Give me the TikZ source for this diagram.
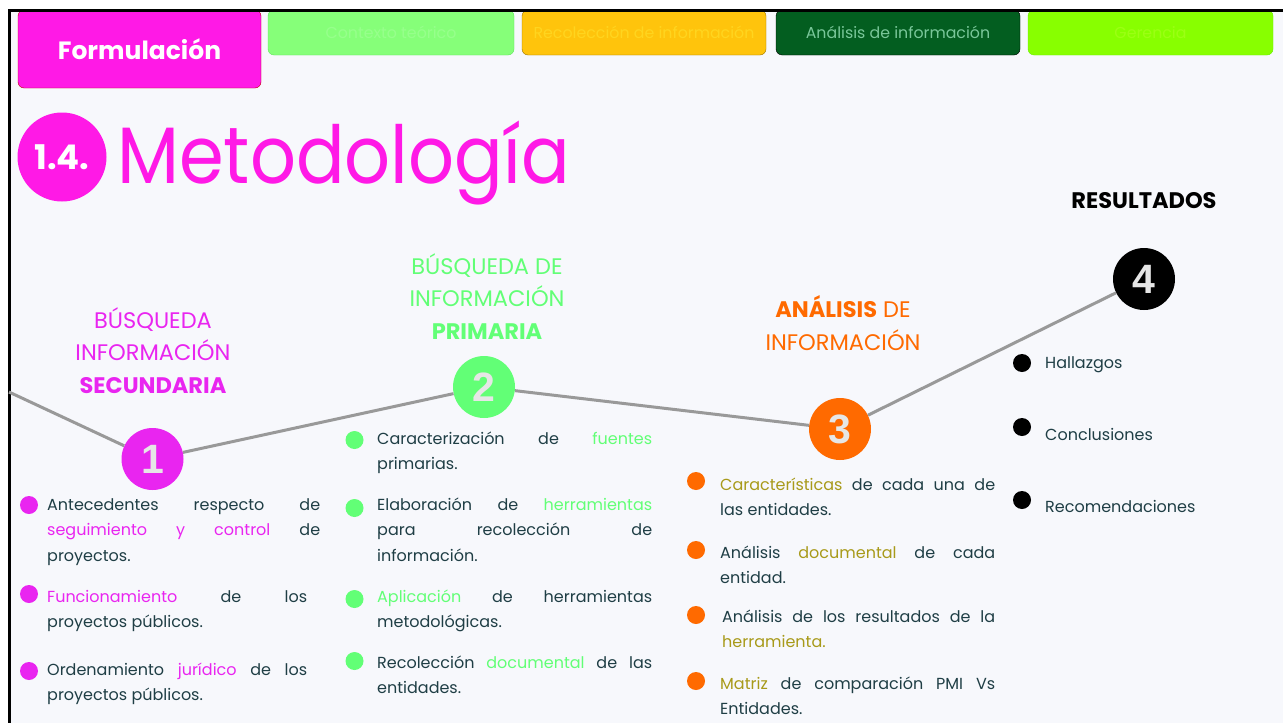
\documentclass[tikz,border=0pt]{standalone}
\usepackage{fontspec}
\setmainfont{Poppins}
\newfontfamily\titlefont{Poppins}[FakeStretch=0.9]
\newfontfamily\numfont{Liberation Sans}
\usepackage{xcolor}
\usepackage{tikz}
\usetikzlibrary{positioning}
\definecolor{pagebg}{HTML}{F7F8FC}
\definecolor{titlemag}{HTML}{FF19E6}
\definecolor{secmag}{HTML}{E925F0}
\definecolor{secgreen}{HTML}{62FF76}
\definecolor{secorange}{HTML}{FF6A00}
\definecolor{hiolive}{HTML}{A89A1A}
\definecolor{txtdark}{HTML}{1F3E45}
\definecolor{linegray}{HTML}{999999}
\definecolor{numgray}{HTML}{E6E6E6}
\definecolor{formred}{HTML}{C00000}
\definecolor{ctxfill}{HTML}{86FF79}
\definecolor{ctxline}{HTML}{5EE65A}
\definecolor{ctxtext}{HTML}{97FF8C}
\definecolor{recfill}{HTML}{FFC40C}
\definecolor{recline}{HTML}{9A7400}
\definecolor{rectext}{HTML}{FFD51F}
\definecolor{anafill}{HTML}{035E20}
\definecolor{anatext}{HTML}{7AC79A}
\definecolor{gerfill}{HTML}{88FF00}
\definecolor{gerline}{HTML}{66F000}
\definecolor{gertext}{HTML}{9CFF14}

\begin{document}
\begin{tikzpicture}[x=1pt, y=-1pt,
  tab/.style={draw, rounded corners=6pt, minimum width=244pt, minimum height=45pt, inner sep=0pt, font=\fontsize{15.8}{17}\selectfont},
  stepnum/.style={circle, minimum size=62pt, inner sep=0pt, text=numgray, font=\numfont\bfseries\fontsize{41}{41}\selectfont},
  itemdot/.style={circle, minimum size=18pt, inner sep=0pt},
  item/.style={anchor=base west, text width=#1, align=justify, inner sep=0pt, text=txtdark, font=\fontsize{16}{25.5}\selectfont},
  item/.default=273pt,
  head/.style={anchor=base, align=center, inner sep=0pt, font=\fontsize{22.5}{32.5}\selectfont}]
  \useasboundingbox (0,0) rectangle (1283,723);
  % page and frame
  \fill[white] (0,0) rectangle (1283,723);
  \fill[pagebg] (9,10) rectangle (1283,723);
  % top tabs
  \node[tab, draw=formred, fill=titlemag, text=white, minimum width=243pt, minimum height=78pt, font=\bfseries\fontsize{25}{27}\selectfont] (tform) at (139.5,49) {Formulación};
  \node[tab, draw=ctxline, fill=ctxfill, text=ctxtext, minimum width=246pt] (tctx) at (391,32.5) {Contexto teórico};
  \node[tab, draw=recline, fill=recfill, text=rectext] (trec) at (644,32.5) {Recolección de información};
  \node[tab, draw=black, fill=anafill, text=anatext] (tana) at (898,32.5) {Análisis de información};
  \node[tab, draw=gerline, fill=gerfill, text=gertext, minimum width=245pt] (tger) at (1150.5,32.5) {Gerencia};
  \draw[line width=3pt] (9,723) -- (9,10) -- (1283,10);
  % title
  \node[circle, fill=titlemag, text=white, minimum size=89pt, inner sep=0pt, font=\bfseries\fontsize{34}{34}\selectfont] (tnum) at (62,157) {1.4.};
  \node[anchor=base west, inner sep=0pt, text=titlemag, font=\titlefont\fontsize{80}{80}\selectfont] (ttl) at (117,183) {Metodología};
  % steps along the line
  \node[stepnum, fill=secmag] (n1) at (152.5,459) {1};
  \node[stepnum, fill=secgreen] (n2) at (484,387) {2};
  \node[stepnum, fill=secorange] (n3) at (840,429) {3};
  \node[stepnum, fill=black] (n4) at (1144,279) {4};
  \coordinate (lstart) at (9,392);
  \draw[linegray, line width=3pt] (lstart) -- (n1) (n1) -- (n2) (n2) -- (n3) (n3) -- (n4);
  % headings (base = last line)
  \node[head, text=secmag] (h1) at (153,393) {BÚSQUEDA\\INFORMACIÓN\\\textbf{SECUNDARIA}};
  \node[head, text=secgreen] (h2) at (487,339) {BÚSQUEDA DE\\INFORMACIÓN\\\textbf{PRIMARIA}};
  \node[head, text=secorange] (h3) at (843,350) {\textbf{ANÁLISIS} DE\\INFORMACIÓN};
  \node[head, text=black] (h4) at (1144,208) {\textbf{RESULTADOS}};
  % column 1
  \foreach \y/\k in {505/1,594/2,671/3} \node[itemdot, fill=secmag] (b1\k) at (29,\y) {};
  \node[item] (t11) at (47,510) {Antecedentes respecto de\linebreak \textcolor{secmag}{seguimiento y control} de\linebreak proyectos.};
  \node[item=260pt] (t12) at (47,602) {\textcolor{secmag}{Funcionamiento} de los\linebreak proyectos públicos.};
  \node[item=260pt] (t13) at (47,675) {Ordenamiento \textcolor{secmag}{jurídico} de los\linebreak proyectos públicos.};
  % column 2
  \foreach \y/\k in {440/1,508/2,599/3,661/4} \node[itemdot, fill=secgreen] (b2\k) at (354.5,\y) {};
  \node[item=275pt] (t21) at (377,444) {Caracterización de \textcolor{secgreen}{fuentes}\linebreak primarias.};
  \node[item=275pt] (t22) at (377,510) {Elaboración de \textcolor{secgreen}{herramientas}\linebreak para recolección de\linebreak información.};
  \node[item=275pt] (t23) at (377,602) {\textcolor{secgreen}{Aplicación} de herramientas\linebreak metodológicas.};
  \node[item=275pt] (t24) at (377,668) {Recolección \textcolor{secgreen}{documental} de las\linebreak entidades.};
  % column 3
  \foreach \y/\k in {481/1,550/2,615/3,681/4} \node[itemdot, fill=secorange] (b3\k) at (696,\y) {};
  \node[item=275pt] (t31) at (720,490) {\textcolor{hiolive}{Características} de cada una de\linebreak las entidades.};
  \node[item=275pt] (t32) at (720,558) {Análisis \textcolor{hiolive}{documental} de cada\linebreak entidad.};
  \node[item] (t33) at (722,622) {Análisis de los resultados de la\linebreak \textcolor{hiolive}{herramienta.}};
  \node[item=275pt] (t34) at (720,689) {\textcolor{hiolive}{Matriz} de comparación PMI Vs\linebreak Entidades.};
  % column 4
  \foreach \y/\k in {363/1,427/2,500/3} \node[itemdot, fill=black] (b4\k) at (1022,\y) {};
  \node[item, align=left] (t41) at (1045,368) {Hallazgos};
  \node[item, align=left] (t42) at (1045,440) {Conclusiones};
  \node[item, align=left] (t43) at (1045,512) {Recomendaciones};
\end{tikzpicture}
\end{document}
